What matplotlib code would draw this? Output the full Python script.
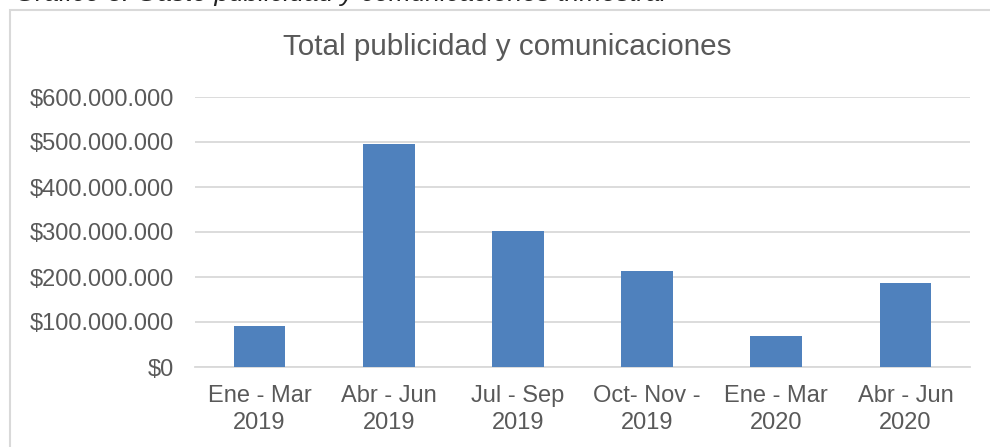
import matplotlib.pyplot as plt
from matplotlib.patches import Rectangle
from matplotlib.ticker import FuncFormatter

plt.rcParams['font.family'] = ['Liberation Sans', 'DejaVu Sans']

# data
periodos = ["Ene - Mar\n2019", "Abr - Jun\n2019", "Jul - Sep\n2019",
            "Oct- Nov -\n2019", "Ene - Mar\n2020", "Abr - Jun\n2020"]
gasto = [91000000, 496000000, 302000000, 213000000, 68000000, 187000000]
yticks = [0, 100000000, 200000000, 300000000, 400000000, 500000000, 600000000]

gris = '#595959'

fig = plt.figure(figsize=(9.9, 4.47), dpi=100)
W, H = 990, 447

# chart frame (only top and left visible in the crop)
fig.patches.append(Rectangle((10 / W, -0.1), 1.2, 1 - 10 / H + 0.1,
                             transform=fig.transFigure, fill=False,
                             edgecolor='#d9d9d9', linewidth=1.5))

# caption above the chart, cut off by the top edge as in the source
fig.text(15 / W, 1 - 0.5 / H, "Gráfico 3. Gasto publicidad y comunicaciones trimestral",
         fontsize=19, style='italic', color='#222222', va='baseline', ha='left')

ax = fig.add_axes([195 / W, (H - 367) / H, (970 - 195) / W, 270 / H])
x = range(len(periodos))
ax.bar(x, gasto, width=0.4, color='#4f81bd', zorder=3)

ax.set_xlim(-0.5, len(periodos) - 0.5)
ax.set_ylim(0, 600000000)
ax.set_yticks(yticks)
ax.yaxis.set_major_formatter(FuncFormatter(lambda v, p: "$" + f"{int(v):,}".replace(",", ".")))
ax.set_xticks(list(x))
ax.set_xticklabels(periodos)

ax.grid(axis='y', color='#d9d9d9', linewidth=1.3, zorder=0)
for s in ['top', 'right', 'left']:
    ax.spines[s].set_visible(False)
ax.spines['bottom'].set_color('#d9d9d9')
ax.spines['bottom'].set_linewidth(1.3)
ax.tick_params(axis='both', length=0, labelsize=17, labelcolor=gris)
ax.tick_params(axis='y', pad=15)
ax.tick_params(axis='x', pad=13)
for lbl in ax.get_xticklabels():
    lbl.set_linespacing(1.28)

fig.text(507 / W, 1 - 47 / H, "Total publicidad y comunicaciones",
         fontsize=21.3, color=gris, ha='center', va='center')

fig.savefig('out.png', dpi=100, facecolor='white')
